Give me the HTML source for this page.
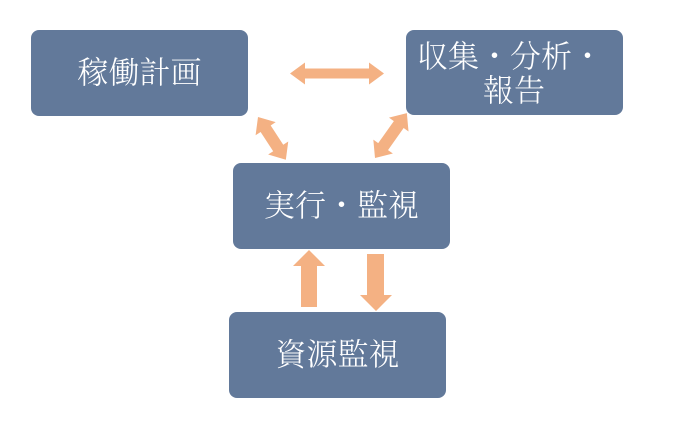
<!DOCTYPE html>
<html><head><meta charset="utf-8"><style>
html,body{margin:0;padding:0;background:#fff;}
svg{display:block;}
text{font-family:"Noto Serif CJK SC","Noto Serif CJK JP","Liberation Serif",serif;fill:#fff;font-size:31px;font-weight:300;}
</style></head><body>
<svg width="691" height="442" viewBox="0 0 691 442" xmlns="http://www.w3.org/2000/svg">
<rect x="0" y="0" width="691" height="442" fill="#fff"/>
<g fill="#62799A">
<rect x="31" y="30" width="217" height="86" rx="8"/>
<rect x="406" y="30" width="217" height="85" rx="8"/>
<rect x="233" y="163" width="217" height="86" rx="8"/>
<rect x="229" y="312" width="217" height="86" rx="8"/>
</g>
<g fill="#F4B183">
<polygon points="290,73.5 305,62.5 305,68.5 369,68.5 369,62.5 384,73.5 369,84.5 369,78.5 305,78.5 305,84.5"/>
<g transform="translate(258,117) rotate(56.9)">
<polygon points="0,0 14,-12 14,-6 37,-6 37,-12 51,0 37,12 37,6 14,6 14,12"/>
</g>
<g transform="translate(375,158) rotate(-54.6)">
<polygon points="0,0 14,-12 14,-6 41,-6 41,-12 55,0 41,12 41,6 14,6 14,12"/>
</g>
<polygon points="309,250 325,266 317,266 317,307 301,307 301,266 293,266"/>
<polygon points="376,311 392,295 384,295 384,254 367,254 367,295 360,295"/>
</g>
<text x="139.5" y="70" text-anchor="middle" dominant-baseline="central">稼働計画</text>
<text x="510" y="54" text-anchor="middle" dominant-baseline="central">収集・分析・</text>
<text x="514" y="88" text-anchor="middle" dominant-baseline="central">報告</text>
<text x="341.5" y="203" text-anchor="middle" dominant-baseline="central">実行・監視</text>
<text x="337.5" y="352" text-anchor="middle" dominant-baseline="central">資源監視</text>
</svg>
</body></html>
